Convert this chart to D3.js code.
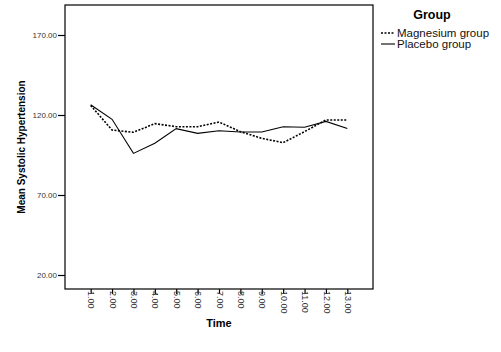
<!DOCTYPE html>
<html><head><meta charset="utf-8">
<script src="https://cdn.jsdelivr.net/npm/d3@7"></script>
<style>body{margin:0;background:#fff}svg{display:block}text{font-family:"Liberation Sans",Arial,sans-serif}</style>
</head><body>
<script>
const times = [1,2,3,4,5,6,7,8,9,10,11,12,13];
const magnesium = [126, 110.6, 109.2, 114.6, 112.7, 112.7, 115.6, 109.6, 105.4, 102.7, 109.6, 116.9, 116.9];
const placebo = [126.4, 117.3, 96.0, 102.3, 111.5, 108.5, 110.2, 109.4, 109.4, 112.7, 112.3, 116.0, 111.5];
const yTicks = [20, 70, 120, 170];
const seriesNames = ["Magnesium group", "Placebo group"];

const W = 501, H = 352;
const svg = d3.select("body").append("svg").attr("width", W).attr("height", H);
const L = 65, R = 373, T = 5, B = 289;
const x = d3.scaleLinear().domain([-0.2, 14.2]).range([L, R]);
const y = d3.scaleLinear().domain([11.25, 188.75]).range([B, T]);

svg.append("rect").attr("x", L).attr("y", T).attr("width", R - L).attr("height", B - T)
  .attr("fill", "none").attr("stroke", "#000").attr("stroke-width", 1.2);

const yAxis = svg.append("g").attr("transform", `translate(${L},0)`)
  .call(d3.axisLeft(y).tickValues(yTicks).tickFormat(d3.format(".2f")).tickSize(7).tickPadding(1));
yAxis.select(".domain").remove();
yAxis.selectAll("line").attr("stroke", "#000").attr("stroke-width", 1.2);
yAxis.selectAll("text").attr("font-size", 8).attr("fill", "#333");

const xAxis = svg.append("g").attr("transform", `translate(0,${B})`)
  .call(d3.axisBottom(x).tickValues(times).tickFormat(d3.format(".2f")).tickSize(5));
xAxis.select(".domain").remove();
xAxis.selectAll("line").attr("stroke", "#000").attr("stroke-width", 1.2);
xAxis.selectAll("text").attr("font-size", 9).attr("fill", "#333")
  .attr("transform", "rotate(90)").attr("text-anchor", "start")
  .attr("x", 2).attr("y", 0).attr("dy", "0.32em");

const line = d3.line().x((d, i) => x(times[i])).y(d => y(d));
svg.append("path").datum(placebo).attr("d", line).attr("fill", "none").attr("stroke", "#000").attr("stroke-width", 1.1);
svg.append("path").datum(magnesium).attr("d", line).attr("fill", "none").attr("stroke", "#000").attr("stroke-width", 1.6).attr("stroke-dasharray", "2,1.5");

svg.append("text").attr("transform", `translate(25,${(T + B) / 2}) rotate(-90)`).attr("text-anchor", "middle")
  .attr("font-size", 10).attr("font-weight", "bold").text("Mean Systolic Hypertension");
svg.append("text").attr("x", (L + R) / 2).attr("y", 327).attr("text-anchor", "middle")
  .attr("font-size", 11).attr("font-weight", "bold").text("Time");

const lg = svg.append("g");
lg.append("text").attr("x", 432).attr("y", 19).attr("text-anchor", "middle").attr("font-size", 12.5).attr("font-weight", "bold").text("Group");
seriesNames.forEach((n, i) => {
  const yy = 33 + i * 11;
  lg.append("line").attr("x1", 381).attr("x2", 395).attr("y1", yy).attr("y2", yy)
    .attr("stroke", "#000").attr("stroke-width", i === 0 ? 1.6 : 1.1).attr("stroke-dasharray", i === 0 ? "2,1.5" : null);
  lg.append("text").attr("x", 397).attr("y", yy).attr("dy", "0.35em").attr("font-size", 11.5).attr("fill", "#111").text(n);
});
</script>
</body></html>
